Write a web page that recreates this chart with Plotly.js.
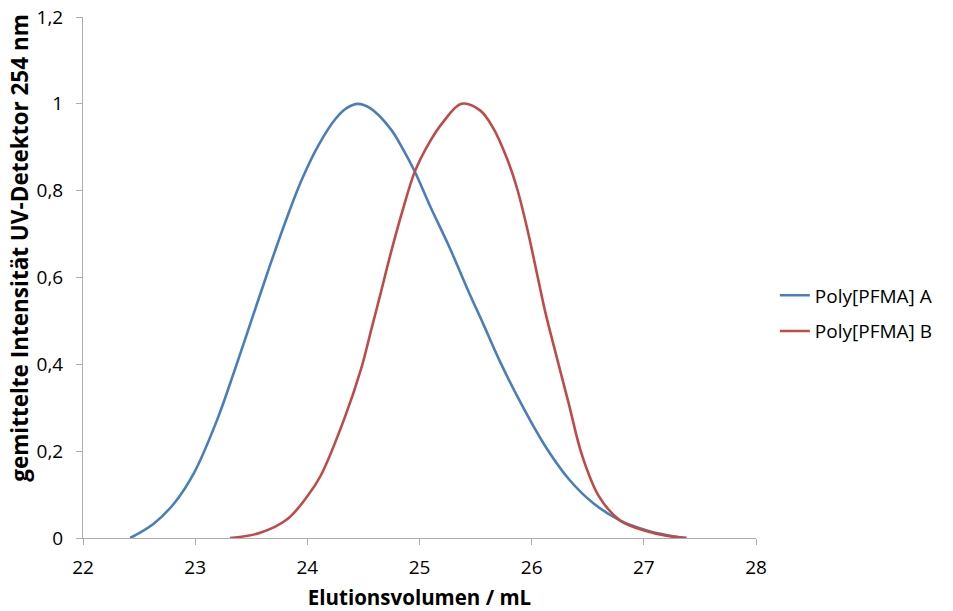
<!DOCTYPE html>
<html>
<head>
<meta charset="utf-8">
<script src="https://cdn.plot.ly/plotly-3.0.1.min.js"></script>
<style>html,body{margin:0;padding:0;background:#fff;}#chart{width:953px;height:611px;}</style>
</head>
<body>
<div id="chart"></div>
<script>
const seriesNames = ["Poly[PFMA] A", "Poly[PFMA] B"];
const xA = [22.42, 22.63, 22.81, 22.99, 23.20, 23.35, 23.50, 23.65, 23.80, 23.95, 24.10, 24.25, 24.35, 24.45, 24.56, 24.74, 24.85, 24.96, 25.09, 25.27, 25.43, 25.57, 25.72, 25.93, 26.13, 26.34, 26.55, 26.79, 27.02, 27.20, 27.38];
const yA = [0.0, 0.033, 0.079, 0.150, 0.275, 0.385, 0.500, 0.615, 0.725, 0.825, 0.905, 0.965, 0.990, 1.0, 0.990, 0.943, 0.897, 0.843, 0.767, 0.668, 0.572, 0.492, 0.405, 0.298, 0.208, 0.133, 0.080, 0.040, 0.018, 0.007, 0.0];
const xB = [23.31, 23.58, 23.82, 24.00, 24.12, 24.33, 24.48, 24.57, 24.65, 24.74, 24.85, 24.96, 25.09, 25.21, 25.375, 25.54, 25.66, 25.78, 25.87, 25.96, 26.04, 26.12, 26.21, 26.33, 26.45, 26.60, 26.79, 27.02, 27.20, 27.38];
const yB = [0.0, 0.012, 0.043, 0.096, 0.144, 0.275, 0.390, 0.480, 0.560, 0.652, 0.755, 0.845, 0.912, 0.958, 1.0, 0.985, 0.943, 0.874, 0.805, 0.713, 0.618, 0.522, 0.430, 0.310, 0.190, 0.096, 0.040, 0.016, 0.005, 0.0];
const xTitle = "Elutionsvolumen / mL";
const yTitle = "gemittelte Intensität UV-Detektor 254 nm";
const colors = ["#4A7EBB", "#BE4B48"];

const FONT = "'Open Sans', 'Noto Sans', sans-serif";
const traces = [
  {x: xA, y: yA, name: seriesNames[0], mode: "lines", line: {color: colors[0], width: 2.6, shape: "spline", smoothing: 1}, legendgroup: "a"},
  {x: xB, y: yB, name: seriesNames[1], mode: "lines", line: {color: colors[1], width: 2.6, shape: "spline", smoothing: 1}, legendgroup: "b"}
];
const layout = {
  width: 953, height: 611,
  margin: {l: 83, r: 197, t: 17, b: 73},
  paper_bgcolor: "#fff", plot_bgcolor: "#fff",
  separators: ", ",
  font: {family: FONT, size: 19, color: "#000"},
  showlegend: true,
  legend: {x: 1.028, xanchor: "left", y: 0.431, yanchor: "middle", font: {family: FONT, size: 19, color: "#000"}, tracegroupgap: 8, traceorder: "grouped", bgcolor: "rgba(0,0,0,0)"},
  xaxis: {
    range: [22, 28], dtick: 1, tick0: 22, showgrid: false, zeroline: false,
    showline: true, linecolor: "#ADADAD", linewidth: 1,
    ticks: "outside", ticklen: 6, tickcolor: "#ADADAD", tickfont: {family: FONT, size: 19},
    ticklabelstandoff: 6,
    title: {text: "<b>" + xTitle + "</b>", font: {family: FONT, size: 20.5}, standoff: 14}
  },
  yaxis: {
    range: [0, 1.2], dtick: 0.2, tick0: 0, showgrid: false, zeroline: false,
    showline: true, linecolor: "#ADADAD", linewidth: 1,
    ticks: "outside", ticklen: 6, tickcolor: "#ADADAD", tickfont: {family: FONT, size: 19},
    ticklabelstandoff: 9
  },
  annotations: [{
    text: "<b>" + yTitle + "</b>", textangle: -90, showarrow: false,
    xref: "paper", yref: "paper", x: -0.0936, y: 0.557, xanchor: "center", yanchor: "middle",
    font: {family: FONT, size: 22.5, color: "#000"}
  }]
};
Plotly.newPlot("chart", traces, layout, {displayModeBar: false, staticPlot: true});
</script>
</body>
</html>
